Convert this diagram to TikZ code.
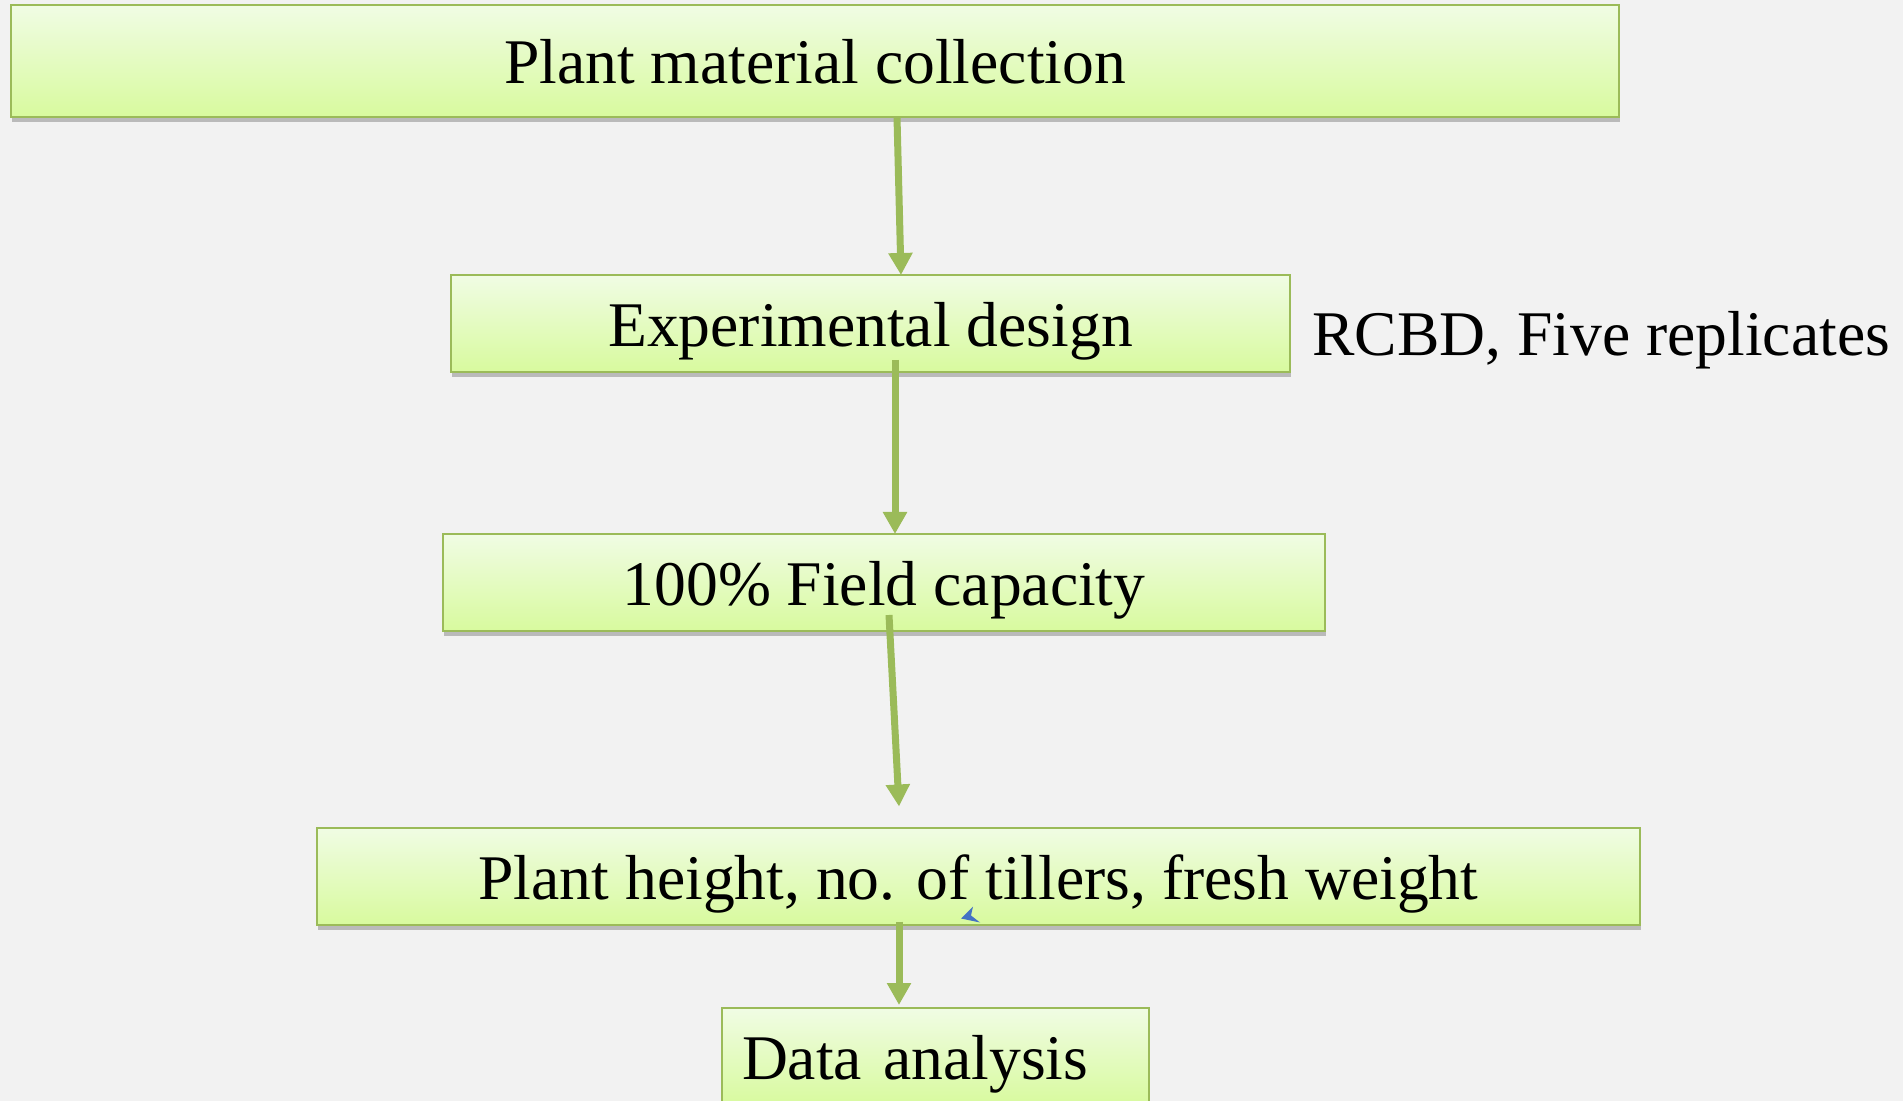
\documentclass[tikz,border=0pt]{standalone}
\usepackage{fontspec}
\setmainfont{Liberation Serif}
\usetikzlibrary{arrows.meta,positioning,calc,shadows}
\usepackage{xcolor}
\definecolor{PageGrey}{HTML}{F2F2F2}
\definecolor{LeafGreen}{HTML}{9BBB59}
\definecolor{PaleTop}{HTML}{F0FCE4}
\definecolor{PaleBottom}{HTML}{D8FA9E}
\definecolor{MarkBlue}{HTML}{4472C4}

\begin{document}
\begin{tikzpicture}[x=0.5pt,y=-0.5pt,
    every node/.style={font=\fontsize{31.8}{38}\selectfont},
    stepbox/.style={draw=LeafGreen,line width=1pt,top color=PaleTop,bottom color=PaleBottom,
      minimum height=48.5pt,inner sep=0pt,outer sep=0pt,text height=23pt,text depth=0pt,
      drop shadow={shadow xshift=0.5pt,shadow yshift=-2.5pt,opacity=0.4,fill=black!60}},
    flow/.style={draw=LeafGreen,line width=3.5pt,-{Triangle[width=11.5pt,length=11pt]}}
  ]
  \path[fill=PageGrey,use as bounding box] (0,0) rectangle (1903,1101);
  \clip (0,0) rectangle (1903,1101);
  \node[stepbox,minimum width=804pt,minimum height=56pt] (collect) at (815,61) {Plant material collection};
  \node[stepbox,minimum width=419.5pt] (design) at (870.5,323.5) {Experimental design};
  \node[anchor=base west,inner sep=0pt] (rcbd) at (1312,356) {RCBD, Five replicates};
  \node[stepbox,minimum width=441pt] (field) at (884,582.5) {100\% Field capacity};
  \node[stepbox,minimum width=661.5pt] (measure) at (978.5,876) {Plant height, no. of tillers, fresh weight};
  \node[stepbox,minimum width=213.5pt,text width=193.5pt,inner xsep=10pt,align=left] (analysis) at (935.5,1056.5) {Data analysis};
  % arrows between the steps
  \draw[flow] ($(collect.south)+(82,0)$) -- ($(design.north)+(30.5,0)$);
  \draw[flow] ($(design.south)+(24.5,-12)$) -- ($(field.north)+(11,0)$);
  \draw[flow] ($(field.south)+(5,-16)$) -- ($(measure.north)+(-79.5,-21)$);
  \draw[flow] ($(measure.south)+(-79.5,-3)$) -- ($(analysis.north)+(-36.5,-3)$);
  % small blue mark on the lower edge
  \fill[MarkBlue] ($(measure.south)+(-17.5,-6)$) -- ++(12,-12) -- ++(-2,9) -- ++(9,7) -- cycle;
\end{tikzpicture}
\end{document}
